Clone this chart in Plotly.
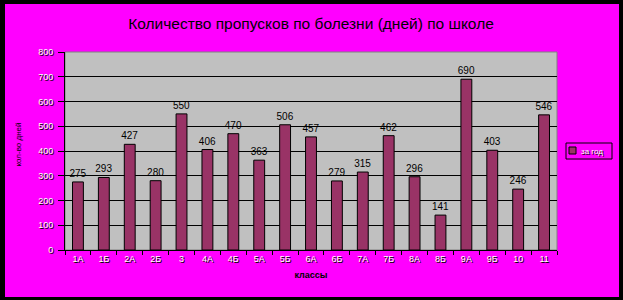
import plotly.graph_objects as go

classes = ["1А", "1Б", "2А", "2Б", "3", "4А", "4Б", "5А", "5Б", "6А", "6Б",
           "7А", "7Б", "8А", "8Б", "9А", "9Б", "10", "11"]
days = [275, 293, 427, 280, 550, 406, 470, 363, 506, 457, 279,
        315, 462, 296, 141, 690, 403, 246, 546]
y_ticks = [0, 100, 200, 300, 400, 500, 600, 700, 800]
series_name = "за год"

W, H = 623, 300
L, R, T, B = 65, 66, 52, 50
pw, ph = W - L - R, H - T - B
BAR_COLOR = "#993366"

def px_x(p):
    return (p - L) / pw

def px_y(p):
    return (H - B - p) / ph

tick_font = dict(family="Liberation Sans, Arial", size=9, color="#ffffff",
                 shadow="1px 1px 0px #000000")

fig = go.Figure()
fig.add_trace(go.Bar(
    x=classes, y=days, name=series_name, showlegend=False,
    marker=dict(color=BAR_COLOR, line=dict(color="black", width=1)),
    text=days, textposition="outside", cliponaxis=False, constraintext="none",
    textfont=dict(family="Liberation Sans, Arial", size=10, color="black"),
))

fig.update_layout(
    width=W, height=H,
    margin=dict(l=L, r=R, t=T, b=B, autoexpand=False),
    paper_bgcolor="black",
    plot_bgcolor="rgba(0,0,0,0)",
    bargap=0.58,
    showlegend=False,
    title=dict(text="Количество пропусков по болезни (дней) по школе",
               x=0.5, xref="paper", xanchor="center",
               y=1 - 24 / H, yanchor="middle",
               font=dict(family="Liberation Sans, Arial", size=15.5, color="black")),
    xaxis=dict(type="category", showgrid=False, showline=True, linecolor="black",
               linewidth=1, ticks="outside", tickson="boundaries", ticklen=4,
               tickcolor="black", tickfont=tick_font, zeroline=False,
               title=dict(text="<b>классы</b>", standoff=8,
                          font=dict(family="Liberation Sans, Arial", size=9, color="black"))),
    yaxis=dict(range=[0, 800], tickvals=y_ticks, showgrid=True, gridcolor="black",
               gridwidth=1, showline=True, linecolor="black", linewidth=1,
               ticks="outside", ticklen=6, tickcolor="black", tickfont=tick_font,
               ticklabelstandoff=3, zeroline=False, fixedrange=True),
    shapes=[
        dict(type="rect", xref="paper", yref="paper",
             x0=px_x(5), x1=px_x(619), y0=px_y(297), y1=px_y(4),
             fillcolor="#ff00ff", line=dict(width=0), layer="below"),
        dict(type="rect", xref="paper", yref="paper",
             x0=0, x1=1, y0=0, y1=1,
             fillcolor="#c0c0c0", line=dict(color="#808080", width=1), layer="below"),
        # legend box
        dict(type="rect", xref="paper", yref="paper",
             x0=px_x(566), x1=px_x(612), y0=px_y(159), y1=px_y(143),
             fillcolor="rgba(0,0,0,0)", line=dict(color="black", width=1), layer="above"),
        dict(type="rect", xref="paper", yref="paper",
             x0=px_x(569), x1=px_x(576), y0=px_y(154), y1=px_y(147),
             fillcolor=BAR_COLOR, line=dict(color="black", width=1), layer="above"),
    ],
    annotations=[
        dict(text="кол-во дней", xref="paper", yref="paper",
             x=px_x(11), y=px_y(145), textangle=-90, showarrow=False,
             font=dict(family="Liberation Sans, Arial", size=8, color="black")),
        dict(text=series_name, xref="paper", yref="paper",
             x=px_x(579), y=px_y(151), xanchor="left", yanchor="middle",
             showarrow=False,
             font=dict(family="Liberation Sans, Arial", size=8, color="white",
                       shadow="1px 1px 0px #000000")),
    ],
)

fig.write_html("out.html")
